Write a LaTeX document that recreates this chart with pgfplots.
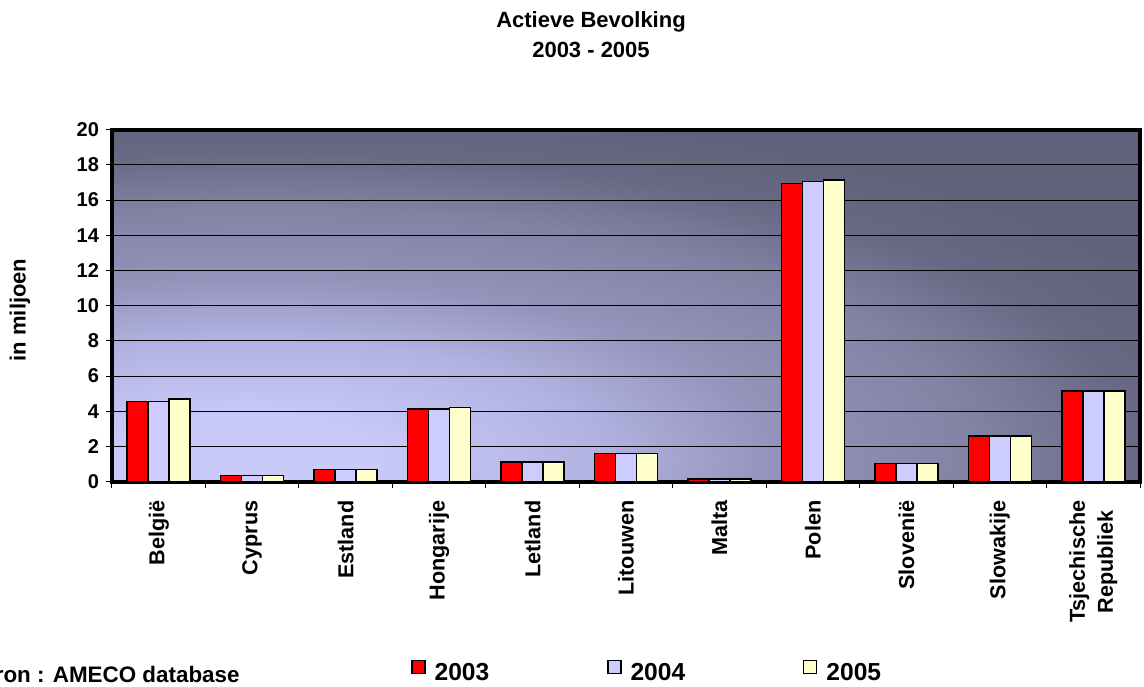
\documentclass[border=0pt]{standalone}
\usepackage{fontspec}
\setmainfont{Liberation Sans}
\usepackage{pgfplots}
\usepackage{pgfplotstable}
\pgfplotsset{compat=1.18}

\definecolor{bar03}{RGB}{255,0,0}
\definecolor{bar04}{RGB}{204,204,255}
\definecolor{bar05}{RGB}{255,255,204}
\definecolor{bg0}{RGB}{202,202,248}
\definecolor{bg1}{RGB}{178,178,225}
\definecolor{bg2}{RGB}{148,148,188}
\definecolor{bg3}{RGB}{130,130,164}
\definecolor{bg4}{RGB}{104,104,132}
\definecolor{bg5}{RGB}{96,97,122}

% light spot low on the left, dark towards the top and right
\pgfdeclareradialshading{plotbg}{\pgfpoint{-18.6bp}{-22bp}}{%
  color(0bp)=(bg0); color(6bp)=(bg0); color(17bp)=(bg1); color(25bp)=(bg2);
  color(35bp)=(bg3); color(43bp)=(bg4); color(50bp)=(bg5); color(1000bp)=(bg5)}

% active population, millions
\pgfplotstableread{
x y2003 y2004 y2005
0 4.56 4.56 4.70
1 0.34 0.35 0.36
2 0.68 0.68 0.68
3 4.14 4.14 4.23
4 1.13 1.13 1.13
5 1.60 1.60 1.60
6 0.16 0.16 0.16
7 16.95 17.05 17.15
8 1.03 1.03 1.03
9 2.61 2.61 2.61
10 5.14 5.14 5.14
}\actief

\begin{document}
\begin{tikzpicture}
\useasboundingbox (0pt,0pt) rectangle (572pt,343pt);
\begin{axis}[
    at={(56pt,102.15pt)}, anchor=south west,
    scale only axis, width=514pt, height=176pt,
    xmin=-0.5, xmax=10.5, ymin=0, ymax=20,
    ybar=0pt, bar width=10.5pt,
    axis background/.style={shade, shading=plotbg},
    axis line style={line width=2pt},
    ymajorgrids, major grid style={black, line width=0.5pt},
    tick align=outside, major tick length=3pt, tick pos=left,
    tick style={black, line width=0.5pt},
    ytick={0,2,...,20},
    /pgf/number format/assume math mode=true,
    yticklabel style={font=\bfseries\fontsize{10}{12}\selectfont},
    xtick={-0.5,0.5,...,10.5}, xticklabels={},
    extra x ticks={0,1,...,10},
    extra x tick labels={België,Cyprus,Estland,Hongarije,Letland,Litouwen,Malta,Polen,Slovenië,Slowakije,{Tsjechische\\Republiek}},
    extra x tick style={major tick length=0pt},
    xticklabel style={yshift=-6pt, rotate=90, anchor=east, align=center,
      font=\bfseries\fontsize{10.8}{14}\selectfont},
    ylabel={in miljoen},
    every axis y label/.style={at={(rel axis cs:-0.0895,0.488)}, rotate=90,
      anchor=center, font=\bfseries\fontsize{11}{13}\selectfont},
    legend columns=3,
    legend style={at={(rel axis cs:0.285,-0.545)}, anchor=west, draw=none, fill=none,
      font=\bfseries\fontsize{12.3}{14}\selectfont,
      /tikz/every odd column/.append style={column sep=2.5pt},
      /tikz/every even column/.append style={column sep=57pt}},
    legend image code/.code={\draw[#1, line width=0.6pt] (0pt,0pt) rectangle (6.5pt,6.5pt);},
    every axis plot/.append style={draw=black, line width=0.75pt},
]
\addplot[fill=bar03] table[x=x, y=y2003] {\actief};
\addplot[fill=bar04] table[x=x, y=y2004] {\actief};
\addplot[fill=bar05] table[x=x, y=y2005] {\actief};
\legend{2003,2004,2005}
\end{axis}
\node[align=center, font=\bfseries\fontsize{11}{15}\selectfont] at (295.5pt,325.75pt) {Actieve Bevolking\\2003 - 2005};
\node[anchor=base east, inner sep=0pt, font=\bfseries\fontsize{11.2}{13}\selectfont] at (120pt,2pt) {Bron : AMECO database};
\end{tikzpicture}
\end{document}
